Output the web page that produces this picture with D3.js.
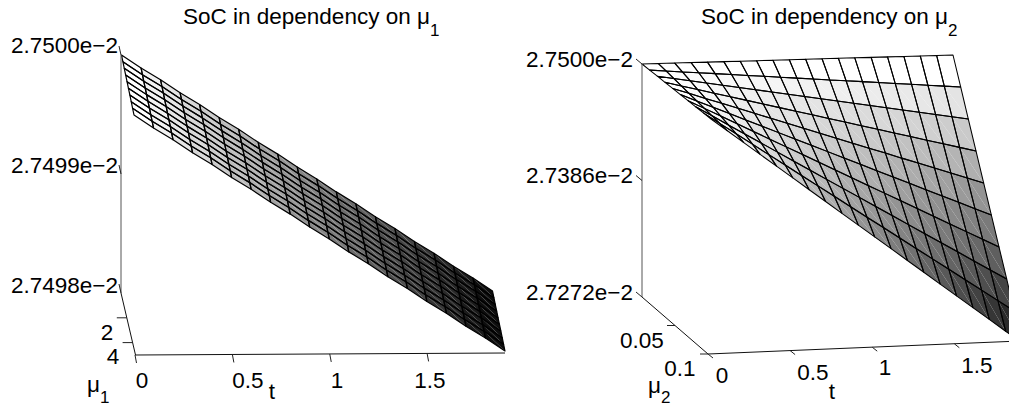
<!DOCTYPE html>
<html>
<head>
<meta charset="utf-8">
<script src="https://cdn.jsdelivr.net/npm/d3@7"></script>
<style>
  html, body { margin: 0; padding: 0; background: #fff; overflow: hidden; }
  text { font-family: "Liberation Sans", Arial, sans-serif; fill: #000; }
</style>
</head>
<body>
<svg id="chart" width="1009" height="407"></svg>
<script>
// Data =======================================================================

const tValues = [0, 0.1, 0.2, 0.3, 0.4, 0.5, 0.6, 0.7, 0.8, 0.9, 1, 1.1, 1.2, 1.3, 1.4, 1.5, 1.6, 1.7, 1.8, 1.9];
const tTicks = [0, 0.5, 1, 1.5];

const mu1Values = [0, 0.56, 1.11, 1.67, 2.22, 2.78, 3.33, 3.89, 4.44, 5];
const mu1Ticks = [2, 4];
const soc1Ticks = [2.75, 2.7499, 2.7498];
const soc1Labels = ["2.7500e\u22122", "2.7499e\u22122", "2.7498e\u22122"];

// SoC (x 1e-2) along t, the surface does not visibly change with mu1
const socByT = [2.75, 2.749989, 2.749979, 2.749968, 2.749958, 2.749947, 2.749937, 2.749926, 2.749916, 2.749905,
  2.749895, 2.749884, 2.749874, 2.749863, 2.749853, 2.749842, 2.749832, 2.749821, 2.749811, 2.7498];

const mu2Values = [0, 0.0111, 0.0222, 0.0333, 0.0444, 0.0556, 0.0667, 0.0778, 0.0889, 0.1];
const mu2Ticks = [0.05, 0.1];
const soc2Ticks = [2.75, 2.7386, 2.7272];
const soc2Labels = ["2.7500e\u22122", "2.7386e\u22122", "2.7272e\u22122"];

// SoC (x 1e-2), one row per mu2, one column per t
const socGrid = [
  [2.75, 2.75, 2.75, 2.75, 2.75, 2.75, 2.75, 2.75, 2.75, 2.75, 2.75, 2.75, 2.75, 2.75, 2.75, 2.75, 2.75, 2.75, 2.75, 2.75],
  [2.75, 2.74987, 2.74973, 2.7496, 2.74947, 2.74933, 2.7492, 2.74907, 2.74893, 2.7488, 2.74867, 2.74853, 2.7484, 2.74827, 2.74813, 2.748, 2.74787, 2.74773, 2.7476, 2.74747],
  [2.75, 2.74973, 2.74947, 2.7492, 2.74893, 2.74867, 2.7484, 2.74813, 2.74787, 2.7476, 2.74733, 2.74707, 2.7468, 2.74653, 2.74627, 2.746, 2.74573, 2.74547, 2.7452, 2.74493],
  [2.75, 2.7496, 2.7492, 2.7488, 2.7484, 2.748, 2.7476, 2.7472, 2.7468, 2.7464, 2.746, 2.7456, 2.7452, 2.7448, 2.7444, 2.744, 2.7436, 2.7432, 2.7428, 2.7424],
  [2.75, 2.74947, 2.74893, 2.7484, 2.74787, 2.74733, 2.7468, 2.74627, 2.74573, 2.7452, 2.74467, 2.74413, 2.7436, 2.74307, 2.74253, 2.742, 2.74147, 2.74093, 2.7404, 2.73987],
  [2.75, 2.74933, 2.74867, 2.748, 2.74733, 2.74667, 2.746, 2.74533, 2.74467, 2.744, 2.74333, 2.74267, 2.742, 2.74133, 2.74067, 2.74, 2.73933, 2.73867, 2.738, 2.73733],
  [2.75, 2.7492, 2.7484, 2.7476, 2.7468, 2.746, 2.7452, 2.7444, 2.7436, 2.7428, 2.742, 2.7412, 2.7404, 2.7396, 2.7388, 2.738, 2.7372, 2.7364, 2.7356, 2.7348],
  [2.75, 2.74907, 2.74813, 2.7472, 2.74627, 2.74533, 2.7444, 2.74347, 2.74253, 2.7416, 2.74067, 2.73973, 2.7388, 2.73787, 2.73693, 2.736, 2.73507, 2.73413, 2.7332, 2.73227],
  [2.75, 2.74893, 2.74787, 2.7468, 2.74573, 2.74467, 2.7436, 2.74253, 2.74147, 2.7404, 2.73933, 2.73827, 2.7372, 2.73613, 2.73507, 2.734, 2.73293, 2.73187, 2.7308, 2.72973],
  [2.75, 2.7488, 2.7476, 2.7464, 2.7452, 2.744, 2.7428, 2.7416, 2.7404, 2.7392, 2.738, 2.7368, 2.7356, 2.7344, 2.7332, 2.732, 2.7308, 2.7296, 2.7284, 2.7272]
];

// Panels =====================================================================

const svg = d3.select("#chart");
const line = d3.line();

function drawPanel(p) {
  const g = svg.append("g");

  // surface scales, offsets from the corner t=0, mu=min, soc=max
  const tX = d3.scaleLinear().domain([0, 1.9]).range([0, p.tVec[0]]);
  const tY = d3.scaleLinear().domain([0, 1.9]).range([0, p.tVec[1]]);
  const muX = d3.scaleLinear().domain(p.muDomain).range([0, p.muVec[0]]);
  const muY = d3.scaleLinear().domain(p.muDomain).range([0, p.muVec[1]]);
  const zY = d3.scaleLinear().domain(p.socDomain).range([p.zRange, 0]);
  const shade = d3.scaleLinear().domain(p.socDomain).range(p.shades);

  const project = (t, mu, soc) => [
    p.origin[0] + tX(t) + muX(mu),
    p.origin[1] + tY(t) + muY(mu) + zY(soc)
  ];

  // surface: two triangles per cell, flat colour, grid outline on top
  const surface = g.append("g");
  const cells = [];
  p.mu.slice(0, -1).forEach((m, i) => {
    tValues.slice(0, -1).forEach((t, j) => {
      const a = project(t, m, p.soc(i, j));
      const b = project(tValues[j + 1], m, p.soc(i, j + 1));
      const c = project(tValues[j + 1], p.mu[i + 1], p.soc(i + 1, j + 1));
      const d = project(t, p.mu[i + 1], p.soc(i + 1, j));
      cells.push({ a, b, c, d, fill: shade(p.soc(i, j)) });
    });
  });
  surface.selectAll("path.tri1").data(cells).enter().append("path")
    .attr("class", "tri1")
    .attr("d", d => line([d.a, d.b, d.c]) + "Z")
    .attr("fill", d => d.fill);
  surface.selectAll("path.tri2").data(cells).enter().append("path")
    .attr("class", "tri2")
    .attr("d", d => line([d.a, d.c, d.d]) + "Z")
    .attr("fill", d => d.fill);
  surface.selectAll("path.cell").data(cells).enter().append("path")
    .attr("class", "cell")
    .attr("d", d => line([d.a, d.b, d.c, d.d]) + "Z")
    .attr("fill", "none")
    .attr("stroke", "#000")
    .attr("stroke-width", p.gridWidth)
    .attr("stroke-linejoin", "round");

  // axes
  const axisLine = (a, b, color) => g.append("path")
    .attr("d", line([a, b]))
    .attr("fill", "none")
    .attr("stroke", color || "#111")
    .attr("stroke-width", 1);

  const zAxisY = d3.scaleLinear().domain(p.socDomain).range(p.zAxis.y);
  axisLine([p.zAxis.x, zAxisY(p.socDomain[1])], [p.zAxis.x, zAxisY(p.socDomain[0])], "#555");
  p.socTicks.forEach((s, i) => {
    const y = zAxisY(s);
    axisLine([p.zAxis.x + p.zTick[0], y + p.zTick[1]], [p.zAxis.x, y], "#222");
    g.append("text")
      .attr("x", p.zAxis.labelX)
      .attr("y", p.zAxis.labelY[i])
      .attr("text-anchor", "end")
      .attr("font-size", p.labelSize)
      .text(p.socLabels[i]);
  });

  const muAxisX = d3.scaleLinear().domain(p.muAxis.domain).range(p.muAxis.x);
  const muAxisY = d3.scaleLinear().domain(p.muAxis.domain).range(p.muAxis.y);
  axisLine([muAxisX(p.muAxis.domain[0]), muAxisY(p.muAxis.domain[0])],
    [muAxisX(p.muAxis.domain[1]), muAxisY(p.muAxis.domain[1])]);
  p.muTicks.forEach((m, i) => {
    axisLine([muAxisX(m) + p.muTick[0], muAxisY(m) + p.muTick[1]], [muAxisX(m), muAxisY(m)], "#222");
    g.append("text")
      .attr("x", p.muAxis.labelPos[i][0])
      .attr("y", p.muAxis.labelPos[i][1])
      .attr("text-anchor", "middle")
      .attr("font-size", p.labelSize)
      .text(m);
  });

  const tAxisX = d3.scaleLinear().domain([0, 1.9]).range(p.tAxis.x);
  const tAxisY = d3.scaleLinear().domain([0, 1.9]).range(p.tAxis.y);
  axisLine([tAxisX(0), tAxisY(0)], [tAxisX(1.9), tAxisY(1.9)]);
  tTicks.forEach((t, i) => {
    axisLine([tAxisX(t), tAxisY(t)], [tAxisX(t) + p.tTick[0], tAxisY(t) + p.tTick[1]], "#222");
    g.append("text")
      .attr("x", p.tAxis.labelPos[i][0])
      .attr("y", p.tAxis.labelPos[i][1])
      .attr("text-anchor", "middle")
      .attr("font-size", p.labelSize)
      .text(t);
  });

  // titles and axis names
  const title = g.append("text")
    .attr("x", p.title[0])
    .attr("y", p.title[1])
    .attr("font-size", p.labelSize);
  title.append("tspan").text("SoC in dependency on \u03bc");
  title.append("tspan").attr("dy", 12).attr("font-size", p.subSize).text(p.sub);

  g.append("text")
    .attr("x", p.tName[0])
    .attr("y", p.tName[1])
    .attr("text-anchor", "middle")
    .attr("font-size", p.labelSize)
    .text("t");

  const muName = g.append("text")
    .attr("x", p.muName[0])
    .attr("y", p.muName[1])
    .attr("font-size", p.labelSize);
  muName.append("tspan").text("\u03bc");
  muName.append("tspan").attr("dy", p.muSubDy).attr("font-size", p.subSize).text(p.sub);
}

drawPanel({
  mu: mu1Values,
  soc: (i, j) => socByT[j],
  muDomain: [0, 5],
  socDomain: [2.7498, 2.75],
  origin: [121.5, 55],
  tVec: [371, -2],
  muVec: [12.5, 60],
  zRange: 238,
  shades: ["#000000", "#ffffff"],
  gridWidth: 1.2,
  zAxis: { x: 121, y: [293, 55], labelX: 118, labelY: [53, 173, 293] },
  zTick: [-2, -9],
  socTicks: soc1Ticks,
  socLabels: soc1Labels,
  muAxis: { domain: [0, 5], x: [121, 135.5], y: [293, 355], labelPos: [[107, 340], [113, 364]] },
  muTick: [-10, 0],
  muTicks: mu1Ticks,
  tAxis: { x: [135, 505], y: [355, 353], labelPos: [[142, 388], [248, 388], [337, 388], [430, 388]] },
  tTick: [1.5, 8],
  title: [183, 24],
  sub: "1",
  tName: [272, 399],
  muName: [87, 392],
  muSubDy: 11,
  labelSize: 22.5,
  subSize: 17
});

drawPanel({
  mu: mu2Values,
  soc: (i, j) => socGrid[i][j],
  muDomain: [0, 0.1],
  socDomain: [2.7272, 2.75],
  origin: [642, 64],
  tVec: [311, -9],
  muVec: [69, 55],
  zRange: 233,
  shades: ["#020202", "#ffffff"],
  gridWidth: 1.05,
  zAxis: { x: 642, y: [297, 64], labelX: 633, labelY: [67, 183, 300] },
  zTick: [-6, -5],
  socTicks: soc2Ticks,
  socLabels: soc2Labels,
  muAxis: { domain: [0, 0.1], x: [642, 708], y: [297, 354], labelPos: [[642, 348], [680, 376]] },
  muTick: [-8, 0],
  muTicks: mu2Ticks,
  tAxis: { x: [708, 1020], y: [354, 341], labelPos: [[722, 383], [813, 380], [885, 375], [977, 373]] },
  tTick: [5, 4],
  title: [701, 24],
  sub: "2",
  tName: [832, 399],
  muName: [648, 393],
  muSubDy: 10,
  labelSize: 22.5,
  subSize: 17
});
</script>
</body>
</html>
